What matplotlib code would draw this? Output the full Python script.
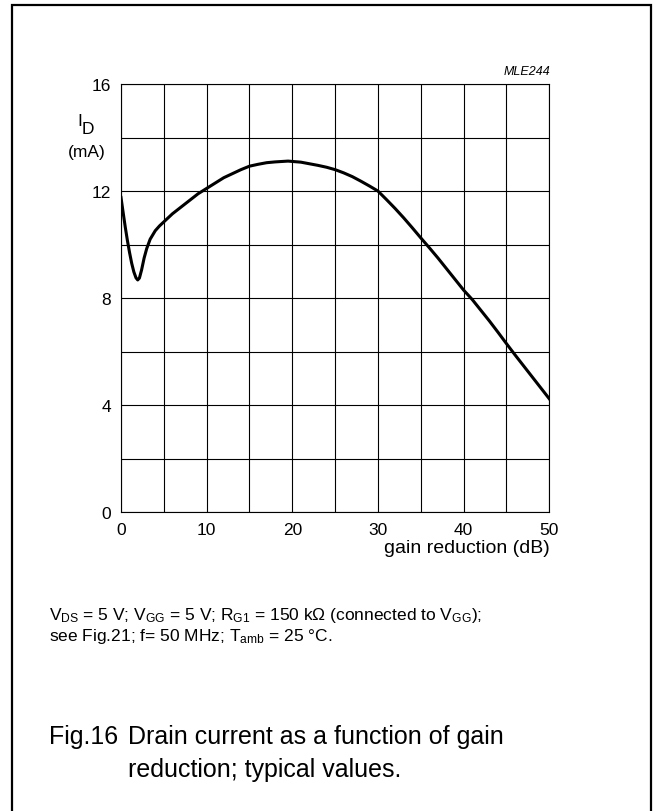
# import modules
import matplotlib
matplotlib.use("Agg")
import matplotlib.pyplot as plt
from matplotlib.patches import Rectangle

plt.rcParams['font.family'] = ['Liberation Sans', 'DejaVu Sans']
plt.rcParams['mathtext.fontset'] = 'custom'
plt.rcParams['mathtext.rm'] = 'Liberation Sans'
plt.rcParams['mathtext.it'] = 'Liberation Sans:italic'

# curve values (gain reduction in dB, drain current in mA)
gain_db = [0, 0.25, 0.5, 0.75, 1.0, 1.25, 1.5, 1.75, 1.95, 2.15, 2.4, 2.7,
           3.0, 3.4, 4.0, 4.5, 5, 6, 7, 8, 9, 10, 11, 12, 13, 14, 15, 16,
           17, 18, 19.5, 21, 22, 23, 24, 25, 26, 27, 28, 29, 30, 31, 32, 33,
           34, 35, 36, 37, 38, 39, 40, 41, 42, 43, 44, 45, 46, 47, 48, 49, 50]
drain_ma = [11.76, 11.2, 10.65, 10.15, 9.7, 9.3, 8.98, 8.76, 8.68, 8.75,
            9.05, 9.5, 9.85, 10.2, 10.52, 10.7, 10.85, 11.15, 11.4, 11.65,
            11.9, 12.1, 12.3, 12.5, 12.65, 12.8, 12.93, 13.0, 13.06, 13.09,
            13.12, 13.08, 13.02, 12.96, 12.89, 12.8, 12.68, 12.54, 12.37,
            12.19, 12.0, 11.68, 11.35, 11.0, 10.63, 10.25, 9.88, 9.5, 9.1,
            8.7, 8.3, 7.95, 7.55, 7.15, 6.73, 6.3, 5.88, 5.47, 5.06, 4.65, 4.24]

# grid positions and which of them carry a label
x_grid = [0, 5, 10, 15, 20, 25, 30, 35, 40, 45, 50]
x_labels = ['0', '', '10', '', '20', '', '30', '', '40', '', '50']
y_grid = [0, 2, 4, 6, 8, 10, 12, 14, 16]
y_labels = ['0', '', '4', '', '8', '', '12', '', '16']

W, H = 654, 812
fig = plt.figure(figsize=(W / 100, H / 100), dpi=100)

# axes box in pixel terms of the reference
left, right, top, bottom = 121, 549.3, 85, 513.3
ax = fig.add_axes([left / W, 1 - bottom / H, (right - left) / W, (bottom - top) / H])

ax.plot(gain_db, drain_ma, color='black', lw=2.2, solid_joinstyle='round')

ax.set_xlim(0, 50)
ax.set_ylim(0, 16)
ax.set_xticks(x_grid)
ax.set_xticklabels(x_labels)
ax.set_yticks(y_grid)
ax.set_yticklabels(y_labels)
ax.tick_params(length=0, labelsize=12.5, pad=7)
ax.grid(True, color='black', lw=0.8)
for s in ax.spines.values():
    s.set_linewidth(0.8)

# axis labels and tag
fig.text(80 / W, 1 - 121 / H, 'I', fontsize=12.5, ha='center', va='center')
fig.text(88 / W, 1 - 130 / H, 'D', fontsize=12.5, ha='center', va='center')
fig.text(87 / W, 1 - 153 / H, '(mA)', fontsize=12.5, ha='center', va='center')
fig.text(550 / W, 1 - 549 / H, 'gain reduction (dB)', fontsize=14, ha='right', va='center')
fig.text(550 / W, 1 - 72 / H, 'MLE244', fontsize=9, style='italic', ha='right', va='center')

# conditions and caption
fig.text(49 / W, 1 - 616 / H,
         r'V$_\mathrm{DS}$ = 5 V; V$_\mathrm{GG}$ = 5 V; R$_\mathrm{G1}$ = 150 k$\Omega$ '
         r'(connected to V$_\mathrm{GG}$);',
         fontsize=12.5, ha='left', va='center')
fig.text(49 / W, 1 - 637 / H,
         r'see Fig.21; f= 50 MHz; T$_\mathrm{amb}$ = 25 °C.',
         fontsize=12.5, ha='left', va='center')
fig.text(49 / W, 1 - 737 / H, 'Fig.16', fontsize=18, ha='left', va='center')
fig.text(128 / W, 1 - 737 / H, 'Drain current as a function of gain',
         fontsize=18, ha='left', va='center')
fig.text(128 / W, 1 - 770 / H, 'reduction; typical values.',
         fontsize=18, ha='left', va='center')

# frame round the whole figure, open at the bottom
fig.add_artist(Rectangle((12 / W, -0.01), (651 - 12) / W, 1 - 6 / H + 0.01,
                         transform=fig.transFigure, fill=False, lw=1.6,
                         edgecolor='black'))

fig.savefig('out.png', dpi=100)
